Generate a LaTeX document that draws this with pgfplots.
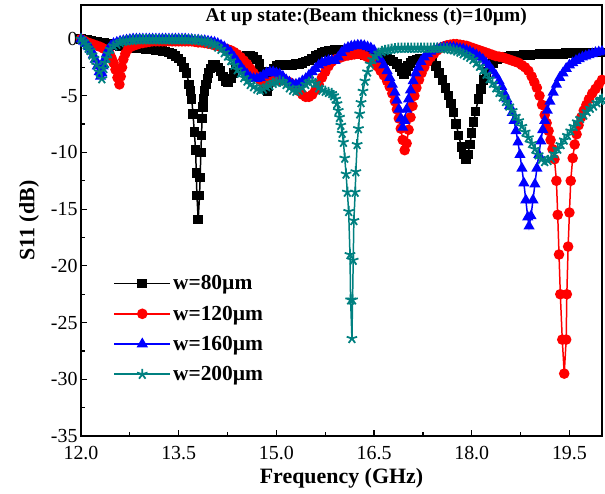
\documentclass[border=0pt]{standalone}
\usepackage{fontspec}
\setmainfont{Liberation Serif}
\usepackage{pgfplots}
\pgfplotsset{compat=1.18}
\definecolor{tealc}{RGB}{0,128,128}
\begin{document}
\begin{tikzpicture}
\begin{axis}[
  scale only axis, width=521bp, height=431bp,
  xmin=12, xmax=20, ymin=-35, ymax=3,
  xtick={12,13.5,15,16.5,18,19.5}, minor x tick num=1,
  ytick={-35,-30,-25,-20,-15,-10,-5,0}, minor y tick num=1,
  xtick pos=bottom, ytick pos=left, tick align=inside,
  major tick length=6bp, minor tick length=4bp,
  every tick/.style={black, line width=1.2pt},
  axis line style={line width=1.5pt},
  xticklabel style={/pgf/number format/fixed, /pgf/number format/fixed zerofill, /pgf/number format/precision=1, yshift=-7bp},
  /pgf/number format/assume math mode=true,
  tick label style={font=\fontsize{20}{23}\selectfont},
  xlabel={\bfseries Frequency (GHz)}, ylabel={\bfseries S11 (dB)},
  label style={font=\fontsize{22}{25}\selectfont},
  xlabel style={yshift=-1bp}, ylabel style={yshift=5bp},
  legend style={at={(axis cs:12.45,-20.5)}, anchor=north west, draw=none, fill=none,
    font=\fontsize{21.5}{24}\selectfont\bfseries, row sep=10.5bp},
  legend cell align=left,
  legend image code/.code={\draw[line width=1.6pt, mark repeat=2,mark phase=2] plot coordinates {(0bp,0bp) (28bp,0bp) (56bp,0bp)};},
]
\addplot[black, line width=1.5pt, mark=square*, mark size=4bp] coordinates {
(12.00,0.0)(12.05,-0.05)(12.10,-0.1)(12.15,-0.15)(12.20,-0.2)(12.25,-0.25)(12.30,-0.3)(12.35,-0.35)(12.40,-0.4)(12.45,-0.45)
(12.50,-0.5)(12.55,-0.55)(12.60,-0.6)(12.65,-0.65)(12.70,-0.7)(12.75,-0.75)(12.80,-0.8)(12.85,-0.8)(12.90,-0.8)(12.95,-0.85)
(13.00,-0.9)(13.05,-0.9)(13.10,-0.9)(13.15,-0.95)(13.20,-1.0)(13.25,-1.05)(13.30,-1.1)(13.35,-1.2)(13.40,-1.3)(13.45,-1.5)
(13.50,-1.7)(13.54,-2.0)(13.58,-2.5)(13.62,-3.0)(13.66,-4.0)(13.68,-4.6)(13.70,-5.3)(13.72,-6.6)(13.74,-8.2)(13.76,-9.8)
(13.77,-11.8)(13.78,-13.8)(13.80,-15.9)(13.82,-13.8)(13.83,-12.2)(13.84,-10.0)(13.85,-8.5)(13.86,-7.0)(13.87,-6.0)(13.88,-5.3)
(13.90,-4.6)(13.92,-4.0)(13.94,-3.5)(13.96,-3.0)(13.99,-2.6)(14.02,-2.3)(14.06,-2.3)(14.10,-2.5)(14.14,-2.8)(14.18,-3.3)
(14.22,-3.7)(14.26,-3.8)(14.30,-3.5)(14.34,-3.0)(14.38,-2.5)(14.42,-2.1)(14.46,-1.8)(14.50,-1.6)(14.55,-1.5)(14.60,-1.5)
(14.65,-1.6)(14.70,-1.8)(14.74,-2.2)(14.78,-2.9)(14.81,-3.6)(14.84,-4.3)(14.86,-4.6)(14.88,-4.2)(14.90,-3.5)(14.93,-2.9)
(14.96,-2.6)(15.00,-2.4)(15.05,-2.3)(15.10,-2.3)(15.15,-2.3)(15.20,-2.3)(15.25,-2.3)(15.30,-2.2)(15.35,-2.2)(15.40,-2.1)
(15.45,-2.0)(15.50,-1.9)(15.55,-1.7)(15.60,-1.5)(15.65,-1.4)(15.70,-1.2)(15.75,-1.1)(15.80,-1.0)(15.85,-1.0)(15.90,-0.95)
(15.95,-0.95)(16.00,-1.0)(16.05,-1.0)(16.10,-1.05)(16.15,-1.1)(16.20,-1.2)(16.25,-1.25)(16.30,-1.3)(16.35,-1.4)(16.40,-1.45)
(16.45,-1.5)(16.50,-1.55)(16.55,-1.6)(16.60,-1.65)(16.65,-1.7)(16.70,-1.75)(16.75,-1.85)(16.80,-2.0)(16.85,-2.2)(16.90,-2.5)
(16.93,-2.8)(16.96,-3.1)(16.99,-2.8)(17.02,-2.4)(17.06,-2.1)(17.10,-1.9)(17.15,-1.8)(17.20,-1.75)(17.25,-1.75)(17.30,-1.8)
(17.35,-1.9)(17.40,-2.0)(17.45,-2.4)(17.50,-3.0)(17.55,-3.6)(17.60,-4.3)(17.64,-5.0)(17.68,-5.7)(17.72,-6.5)(17.76,-7.5)
(17.80,-8.5)(17.84,-9.5)(17.88,-10.2)(17.91,-10.6)(17.94,-10.2)(17.97,-9.3)(18.00,-8.3)(18.03,-7.3)(18.06,-6.4)(18.10,-5.3)
(18.14,-4.4)(18.18,-3.6)(18.23,-2.9)(18.28,-2.4)(18.33,-2.1)(18.39,-1.8)(18.45,-1.7)(18.50,-1.6)(18.55,-1.55)(18.60,-1.5)
(18.65,-1.5)(18.70,-1.5)(18.75,-1.45)(18.80,-1.4)(18.85,-1.4)(18.90,-1.4)(18.95,-1.35)(19.00,-1.35)(19.05,-1.3)(19.10,-1.3)
(19.15,-1.3)(19.20,-1.3)(19.25,-1.3)(19.30,-1.3)(19.35,-1.3)(19.40,-1.3)(19.45,-1.25)(19.50,-1.25)(19.55,-1.25)(19.60,-1.25)
(19.65,-1.2)(19.70,-1.2)(19.75,-1.2)(19.80,-1.2)(19.85,-1.2)(19.90,-1.2)(19.95,-1.2)(20.00,-1.2)
};
\addlegendentry{w=80\textmu m}
\addplot[red, line width=1.5pt, mark=*, mark size=4.5bp] coordinates {
(12.00,0.0)(12.05,-0.15)(12.10,-0.3)(12.15,-0.4)(12.20,-0.5)(12.25,-0.6)(12.30,-0.7)(12.35,-0.85)(12.40,-1.0)(12.44,-1.3)
(12.47,-1.7)(12.50,-2.1)(12.53,-2.7)(12.56,-3.4)(12.59,-4.0)(12.61,-3.3)(12.63,-2.5)(12.65,-1.8)(12.68,-1.3)(12.72,-0.9)
(12.76,-0.7)(12.80,-0.6)(12.85,-0.5)(12.90,-0.4)(12.95,-0.35)(13.00,-0.3)(13.05,-0.25)(13.10,-0.2)(13.15,-0.2)(13.20,-0.2)
(13.25,-0.2)(13.30,-0.2)(13.35,-0.2)(13.40,-0.2)(13.45,-0.2)(13.50,-0.2)(13.55,-0.2)(13.60,-0.2)(13.65,-0.2)(13.70,-0.2)
(13.75,-0.25)(13.80,-0.3)(13.85,-0.3)(13.90,-0.35)(13.95,-0.4)(14.00,-0.45)(14.05,-0.55)(14.10,-0.6)(14.15,-0.7)(14.20,-0.8)
(14.25,-0.9)(14.30,-1.0)(14.35,-1.15)(14.40,-1.35)(14.45,-1.6)(14.50,-1.9)(14.55,-2.2)(14.60,-2.6)(14.65,-3.0)(14.70,-3.3)
(14.75,-3.6)(14.80,-3.8)(14.85,-3.9)(14.90,-3.8)(14.95,-3.7)(15.00,-3.6)(15.05,-3.6)(15.10,-3.6)(15.15,-3.7)(15.20,-3.8)
(15.25,-4.0)(15.30,-4.3)(15.35,-4.6)(15.40,-4.9)(15.45,-5.1)(15.50,-5.1)(15.55,-4.9)(15.60,-4.5)(15.65,-4.0)(15.70,-3.4)
(15.75,-2.9)(15.80,-2.4)(15.85,-2.0)(15.90,-1.8)(15.95,-1.7)(16.00,-1.6)(16.05,-1.5)(16.10,-1.45)(16.15,-1.4)(16.20,-1.35)
(16.25,-1.3)(16.30,-1.35)(16.35,-1.45)(16.40,-1.6)(16.45,-1.8)(16.50,-2.1)(16.55,-2.4)(16.60,-2.8)(16.65,-3.2)(16.70,-3.7)
(16.74,-4.2)(16.78,-4.8)(16.82,-5.5)(16.85,-6.2)(16.88,-7.0)(16.91,-7.9)(16.94,-8.9)(16.97,-9.8)(17.00,-9.2)(17.03,-8.0)
(17.06,-6.9)(17.09,-5.9)(17.12,-5.0)(17.15,-4.3)(17.19,-3.6)(17.23,-3.0)(17.27,-2.5)(17.32,-2.0)(17.37,-1.6)(17.42,-1.3)
(17.47,-1.0)(17.52,-0.8)(17.57,-0.65)(17.62,-0.55)(17.67,-0.5)(17.72,-0.45)(17.77,-0.45)(17.82,-0.5)(17.87,-0.55)(17.92,-0.6)
(17.97,-0.7)(18.02,-0.8)(18.07,-0.9)(18.12,-1.0)(18.17,-1.1)(18.22,-1.2)(18.27,-1.3)(18.32,-1.4)(18.37,-1.5)(18.42,-1.55)
(18.47,-1.6)(18.52,-1.7)(18.57,-1.8)(18.62,-1.9)(18.67,-2.0)(18.72,-2.1)(18.77,-2.3)(18.82,-2.5)(18.87,-2.8)(18.92,-3.3)
(18.96,-3.8)(19.00,-4.3)(19.04,-5.0)(19.08,-5.8)(19.12,-6.7)(19.15,-7.4)(19.18,-8.1)(19.21,-8.9)(19.24,-9.7)(19.27,-10.6)
(19.30,-12.5)(19.32,-15.5)(19.34,-19.0)(19.36,-22.5)(19.39,-26.5)(19.42,-29.5)(19.45,-26.5)(19.46,-22.5)(19.48,-18.3)(19.50,-15.3)
(19.52,-12.5)(19.55,-10.5)(19.58,-9.3)(19.61,-8.4)(19.64,-7.6)(19.68,-6.9)(19.72,-6.3)(19.76,-5.8)(19.80,-5.3)(19.85,-4.8)
(19.90,-4.4)(19.95,-4.0)(20.00,-3.6)
};
\addlegendentry{w=120\textmu m}
\addplot[blue, line width=1.5pt, mark=triangle*, mark size=5bp] coordinates {
(12.00,0.0)(12.04,-0.2)(12.08,-0.4)(12.12,-0.7)(12.16,-1.0)(12.19,-1.4)(12.22,-1.8)(12.25,-2.4)(12.28,-2.9)(12.30,-3.3)
(12.32,-3.0)(12.34,-2.4)(12.36,-1.8)(12.39,-1.3)(12.42,-0.9)(12.46,-0.6)(12.50,-0.4)(12.55,-0.3)(12.60,-0.2)(12.65,-0.15)
(12.70,-0.1)(12.75,-0.05)(12.80,0.0)(12.85,0.0)(12.90,0.0)(12.95,0.0)(13.00,0.0)(13.05,0.0)(13.10,0.0)(13.15,0.0)
(13.20,0.0)(13.25,0.0)(13.30,0.0)(13.35,0.0)(13.40,0.0)(13.45,0.0)(13.50,0.0)(13.55,0.0)(13.60,0.0)(13.65,-0.05)
(13.70,-0.05)(13.75,-0.1)(13.80,-0.1)(13.85,-0.15)(13.90,-0.15)(13.95,-0.2)(14.00,-0.25)(14.05,-0.3)(14.10,-0.4)(14.15,-0.55)
(14.20,-0.7)(14.25,-0.95)(14.30,-1.2)(14.35,-1.6)(14.40,-2.0)(14.45,-2.4)(14.50,-2.8)(14.55,-3.1)(14.60,-3.4)(14.65,-3.5)
(14.70,-3.5)(14.75,-3.4)(14.80,-3.2)(14.85,-3.0)(14.90,-2.9)(14.95,-2.9)(15.00,-3.0)(15.05,-3.1)(15.10,-3.3)(15.15,-3.6)
(15.20,-3.8)(15.25,-4.0)(15.30,-4.0)(15.35,-3.9)(15.40,-3.7)(15.45,-3.5)(15.50,-3.2)(15.55,-2.9)(15.60,-2.6)(15.65,-2.3)
(15.70,-2.1)(15.75,-2.0)(15.80,-1.9)(15.85,-1.9)(15.90,-1.9)(15.95,-1.6)(16.00,-1.2)(16.05,-0.9)(16.10,-0.75)(16.15,-0.65)
(16.20,-0.6)(16.25,-0.55)(16.30,-0.55)(16.35,-0.6)(16.40,-0.7)(16.45,-0.8)(16.50,-1.0)(16.55,-1.4)(16.60,-1.8)(16.65,-2.3)
(16.70,-2.8)(16.74,-3.4)(16.78,-4.0)(16.82,-4.7)(16.85,-5.4)(16.88,-6.2)(16.91,-7.0)(16.94,-7.8)(16.97,-7.2)(17.00,-6.2)
(17.03,-5.3)(17.06,-4.5)(17.10,-3.7)(17.14,-3.0)(17.18,-2.5)(17.22,-2.0)(17.27,-1.6)(17.32,-1.3)(17.37,-1.1)(17.42,-0.95)
(17.47,-0.85)(17.52,-0.8)(17.57,-0.75)(17.62,-0.75)(17.67,-0.75)(17.72,-0.75)(17.77,-0.8)(17.82,-0.85)(17.87,-0.9)(17.92,-1.0)
(17.97,-1.1)(18.02,-1.25)(18.07,-1.4)(18.12,-1.6)(18.17,-1.8)(18.22,-2.1)(18.27,-2.4)(18.32,-2.8)(18.37,-3.2)(18.42,-3.7)
(18.46,-4.2)(18.50,-4.8)(18.54,-5.3)(18.58,-5.9)(18.62,-6.5)(18.65,-7.2)(18.68,-8.1)(18.71,-9.1)(18.74,-10.2)(18.77,-11.4)
(18.80,-12.7)(18.83,-14.2)(18.86,-15.7)(18.88,-16.5)(18.91,-15.6)(18.94,-14.2)(18.97,-12.8)(19.00,-11.4)(19.03,-10.2)(19.06,-9.0)
(19.09,-8.0)(19.12,-7.2)(19.16,-6.3)(19.20,-5.5)(19.25,-4.7)(19.30,-4.0)(19.35,-3.4)(19.40,-3.0)(19.45,-2.6)(19.50,-2.3)
(19.55,-2.1)(19.60,-1.9)(19.65,-1.75)(19.70,-1.6)(19.75,-1.5)(19.80,-1.4)(19.85,-1.3)(19.90,-1.2)(19.95,-1.15)(20.00,-1.1)
};
\addlegendentry{w=160\textmu m}
\addplot[tealc, line width=1.5pt, mark=star, mark size=5.5bp, mark options={line width=1.8pt}] coordinates {
(12.00,0.0)(12.04,-0.25)(12.08,-0.5)(12.11,-0.8)(12.14,-1.0)(12.17,-1.4)(12.20,-1.7)(12.24,-2.3)(12.28,-2.9)(12.32,-3.5)
(12.35,-2.6)(12.37,-2.1)(12.39,-1.7)(12.42,-1.3)(12.45,-0.9)(12.50,-0.6)(12.55,-0.45)(12.60,-0.3)(12.65,-0.2)(12.70,-0.15)
(12.75,-0.1)(12.80,-0.1)(12.85,-0.05)(12.90,-0.05)(12.95,-0.05)(13.00,-0.05)(13.05,-0.05)(13.10,-0.05)(13.15,-0.05)(13.20,-0.05)
(13.25,-0.05)(13.30,-0.05)(13.35,-0.05)(13.40,-0.05)(13.45,-0.05)(13.50,-0.05)(13.55,-0.05)(13.60,-0.05)(13.65,-0.05)(13.70,-0.05)
(13.75,-0.1)(13.80,-0.1)(13.85,-0.15)(13.90,-0.2)(13.95,-0.3)(14.00,-0.4)(14.05,-0.5)(14.10,-0.7)(14.15,-0.9)(14.20,-1.2)
(14.25,-1.5)(14.30,-1.9)(14.35,-2.3)(14.40,-2.7)(14.45,-3.0)(14.50,-3.4)(14.55,-3.7)(14.60,-4.0)(14.65,-4.2)(14.70,-4.4)
(14.75,-4.5)(14.80,-4.4)(14.85,-4.2)(14.90,-4.1)(14.95,-3.9)(15.00,-3.8)(15.05,-3.7)(15.10,-3.8)(15.15,-4.0)(15.20,-4.3)
(15.25,-4.5)(15.30,-4.6)(15.35,-4.5)(15.40,-4.3)(15.45,-4.0)(15.50,-3.8)(15.55,-3.7)(15.60,-3.9)(15.65,-4.3)(15.70,-4.5)
(15.75,-4.6)(15.80,-4.7)(15.85,-4.8)(15.88,-5.0)(15.91,-5.3)(15.93,-5.7)(15.95,-6.3)(15.97,-6.9)(15.99,-7.6)(16.01,-8.3)
(16.03,-9.1)(16.05,-10.5)(16.07,-11.9)(16.09,-13.5)(16.11,-15.2)(16.13,-19.0)(16.14,-23.0)(16.16,-26.4)(16.17,-23.0)(16.18,-19.5)
(16.19,-16.0)(16.21,-13.5)(16.22,-11.7)(16.24,-9.3)(16.26,-7.9)(16.28,-6.6)(16.30,-5.6)(16.33,-4.6)(16.36,-3.7)(16.40,-2.9)
(16.44,-2.2)(16.48,-1.8)(16.52,-1.5)(16.57,-1.25)(16.62,-1.1)(16.67,-1.0)(16.72,-0.95)(16.77,-0.9)(16.82,-0.85)(16.87,-0.8)
(16.92,-0.8)(16.97,-0.8)(17.02,-0.8)(17.07,-0.8)(17.12,-0.8)(17.17,-0.8)(17.22,-0.8)(17.27,-0.8)(17.32,-0.8)(17.37,-0.8)
(17.42,-0.8)(17.47,-0.8)(17.52,-0.8)(17.57,-0.8)(17.62,-0.85)(17.67,-0.9)(17.72,-0.95)(17.77,-1.05)(17.82,-1.15)(17.87,-1.3)
(17.92,-1.45)(17.97,-1.6)(18.02,-1.8)(18.07,-2.1)(18.12,-2.4)(18.17,-2.75)(18.22,-3.1)(18.27,-3.5)(18.32,-3.9)(18.37,-4.3)
(18.42,-4.7)(18.47,-5.1)(18.52,-5.5)(18.57,-5.9)(18.62,-6.3)(18.67,-6.8)(18.72,-7.2)(18.77,-7.7)(18.82,-8.2)(18.87,-8.7)
(18.92,-9.2)(18.97,-9.7)(19.02,-10.2)(19.07,-10.6)(19.12,-10.8)(19.17,-10.7)(19.22,-10.5)(19.27,-10.1)(19.32,-9.7)(19.37,-9.3)
(19.42,-8.9)(19.47,-8.5)(19.52,-8.1)(19.57,-7.7)(19.62,-7.3)(19.67,-7.0)(19.72,-6.7)(19.77,-6.4)(19.82,-6.1)(19.87,-5.9)
(19.92,-5.6)(19.97,-5.4)(20.00,-5.3)
};
\addlegendentry{w=200\textmu m}
\node[anchor=north, font=\fontsize{19.5}{22}\selectfont\bfseries, inner sep=0pt] at (axis cs:16.38,2.75) {At up state:(Beam thickness (t)=10\textmu m)};
\end{axis}
\pgfresetboundingbox
\path ([shift={(-81bp,-58bp)}]current axis.south west) rectangle ([shift={(3bp,5bp)}]current axis.north east);
\end{tikzpicture}
\end{document}
